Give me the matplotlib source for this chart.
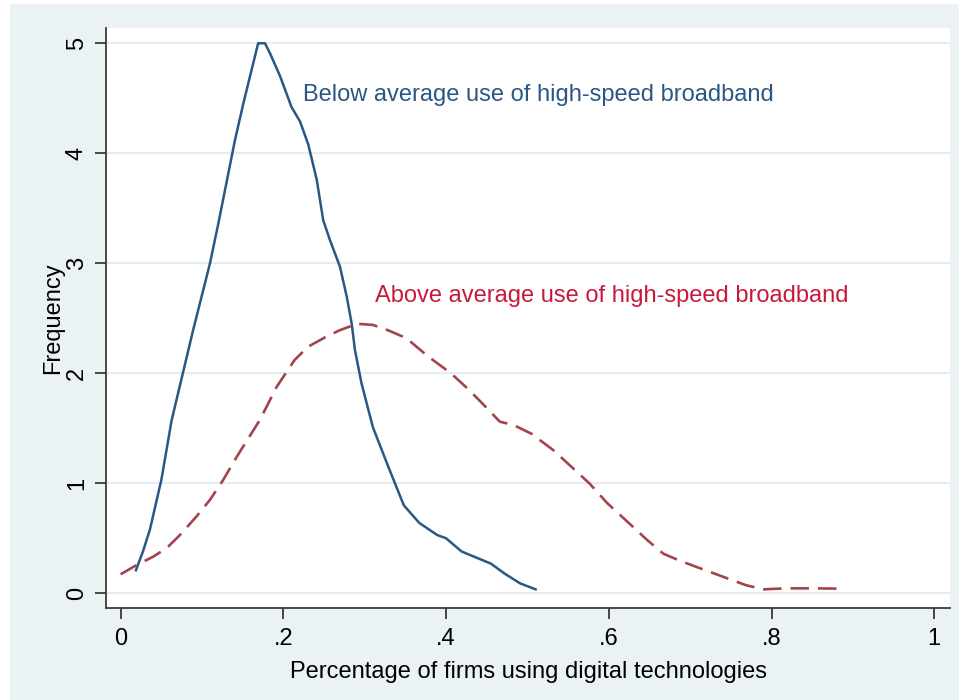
import matplotlib
matplotlib.use("Agg")
import matplotlib.pyplot as plt
from matplotlib.patches import Rectangle

plt.rcParams["font.family"] = ["Liberation Sans", "DejaVu Sans"]

# Kernel density: below-average broadband use
below_x = [0.0188, 0.0274, 0.036, 0.050, 0.0626, 0.089, 0.1098, 0.120, 0.130,
           0.1405, 0.1507, 0.165, 0.169, 0.1774, 0.1835, 0.196, 0.210, 0.2204,
           0.2306, 0.241, 0.249, 0.2573, 0.2695, 0.2778, 0.2840, 0.288, 0.296,
           0.310, 0.329, 0.348, 0.367, 0.389, 0.400, 0.419, 0.455, 0.4717,
           0.491, 0.510]
below_y = [0.21, 0.38, 0.58, 1.03, 1.57, 2.39, 3.00, 3.36, 3.73,
           4.12, 4.45, 4.88, 5.00, 5.00, 4.91, 4.70, 4.42, 4.29,
           4.08, 3.76, 3.39, 3.21, 2.97, 2.70, 2.45, 2.21, 1.91,
           1.51, 1.15, 0.80, 0.64, 0.53, 0.50, 0.38, 0.27, 0.18,
           0.09, 0.036]

# Kernel density: above-average broadband use
above_x = [0.0, 0.0197, 0.040, 0.0565, 0.0729, 0.0934, 0.1098, 0.126, 0.1426,
           0.163, 0.171, 0.192, 0.2137, 0.230, 0.252, 0.2687, 0.2906, 0.3099,
           0.329, 0.351, 0.3784, 0.406, 0.428, 0.444, 0.466, 0.483, 0.505,
           0.532, 0.554, 0.576, 0.598, 0.625, 0.647, 0.667, 0.686, 0.7076,
           0.7405, 0.768, 0.790, 0.817, 0.850, 0.889]
above_y = [0.173, 0.257, 0.333, 0.41, 0.53, 0.70, 0.85, 1.03, 1.24,
           1.48, 1.575, 1.88, 2.12, 2.24, 2.33, 2.39, 2.45, 2.44,
           2.39, 2.32, 2.15, 2.00, 1.85, 1.73, 1.56, 1.53, 1.45,
           1.30, 1.15, 1.00, 0.82, 0.636, 0.485, 0.36, 0.30, 0.24,
           0.15, 0.075, 0.036, 0.045, 0.045, 0.042]

x_ticks = [0, 0.2, 0.4, 0.6, 0.8, 1.0]
x_tick_labels = ["0", ".2", ".4", ".6", ".8", "1"]
y_ticks = [0, 1, 2, 3, 4, 5]
y_tick_labels = ["0", "1", "2", "3", "4", "5"]

label_below = "Below average use of high-speed broadband"
label_above = "Above average use of high-speed broadband"

navy = "#2a5784"
maroon = "#a3444b"
red_text = "#c8193c"
bg = "#eaf2f3"
axis_col = "#3a3a3a"
fs = 17

W, H = 959, 700
fig = plt.figure(figsize=(W / 100, H / 100), dpi=100, facecolor="white")
fig.patches.append(Rectangle((10 / W, 0), (W - 10) / W, 696 / H,
                             transform=fig.transFigure, facecolor=bg,
                             edgecolor="none", zorder=-10))

ax = fig.add_axes([106 / W, 91.7 / H, 844 / W, 580.3 / H])
ax.set_zorder(5)
ax.set_facecolor("white")
ax.set_xlim(-0.018, 1.0193)
ax.set_ylim(-0.1364, 5.139)

for yv in y_ticks:
    ax.axhline(yv, color="#e4edf1", lw=1.5, zorder=1)

ax.plot(below_x, below_y, color=navy, lw=1.8, zorder=3,
        solid_joinstyle="round")
ax.plot(above_x, above_y, color=maroon, lw=1.9, zorder=3,
        dashes=(7, 3.4))

ax.text(0.224, 4.53, label_below, color=navy, fontsize=fs,
        ha="left", va="center")
ax.text(0.3128, 2.70, label_above, color=red_text, fontsize=fs,
        ha="left", va="center")

for side in ("top", "right"):
    ax.spines[side].set_visible(False)
for side in ("left", "bottom"):
    ax.spines[side].set_color(axis_col)
    ax.spines[side].set_linewidth(1.3)

ax.set_xticks(x_ticks)
ax.set_xticklabels(x_tick_labels)
ax.set_yticks(y_ticks)
ax.set_yticklabels(y_tick_labels, rotation=90, va="center")
ax.tick_params(axis="both", direction="out", length=8, width=1.3,
               color=axis_col, labelsize=fs, labelcolor="black")
ax.tick_params(axis="x", pad=6)
ax.tick_params(axis="y", pad=5)

ax.set_xlabel("Percentage of firms using digital technologies",
              fontsize=fs, labelpad=8)
ax.set_ylabel("Frequency", fontsize=fs, labelpad=1)

fig.savefig("out.png", dpi=100, facecolor=fig.get_facecolor())
